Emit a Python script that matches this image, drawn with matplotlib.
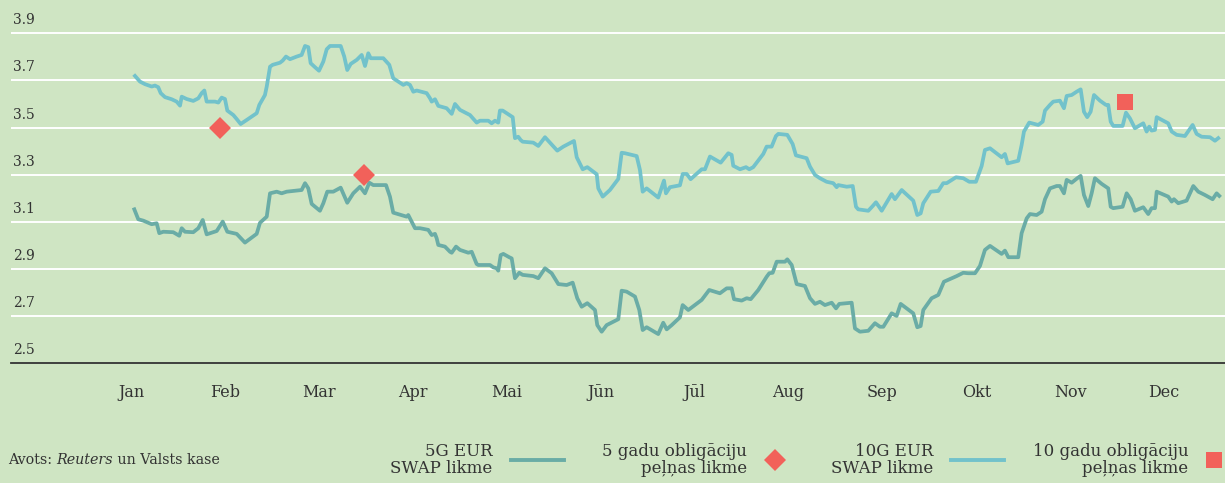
import matplotlib
matplotlib.use("Agg")
import matplotlib.pyplot as plt
from matplotlib.lines import Line2D

# --- DATA (x = month position, 0 = Jan label; y = rate, %) ---
months = ["Jan", "Feb", "Mar", "Apr", "Mai", "Jūn", "Jūl", "Aug", "Sep", "Okt", "Nov", "Dec"]
y_ticks = [2.5, 2.7, 2.9, 3.1, 3.3, 3.5, 3.7, 3.9]

swap10_x = [0.035, 0.088, 0.142, 0.213, 0.248, 0.283, 0.309, 0.355, 0.426, 0.479, 0.515, 0.533,
            0.586, 0.656, 0.710, 0.746, 0.774, 0.799, 0.888, 0.923, 0.959, 0.994, 1.019, 1.083,
            1.119, 1.161, 1.225, 1.332, 1.360, 1.420, 1.439, 1.474, 1.502, 1.580, 1.609, 1.644,
            1.687, 1.758, 1.811, 1.847, 1.882, 1.907, 1.953, 1.996, 2.042, 2.078, 2.113, 2.227,
            2.265, 2.297, 2.334, 2.398, 2.451, 2.486, 2.521, 2.547, 2.681, 2.745, 2.787, 2.894,
            2.930, 2.965, 3.001, 3.037, 3.143, 3.179, 3.197, 3.232, 3.267, 3.356, 3.410, 3.445,
            3.498, 3.605, 3.676, 3.711, 3.800, 3.836, 3.871, 3.906, 3.924, 3.953, 4.060, 4.084,
            4.119, 4.145, 4.166, 4.279, 4.333, 4.404, 4.457, 4.535, 4.599, 4.713, 4.742, 4.806,
            4.855, 4.955, 4.972, 5.019, 5.096, 5.185, 5.221, 5.256, 5.381, 5.416, 5.445, 5.487,
            5.611, 5.672, 5.693, 5.736, 5.842, 5.871, 5.914, 5.956, 6.074, 6.109, 6.162, 6.276,
            6.357, 6.393, 6.410, 6.482, 6.546, 6.581, 6.623, 6.730, 6.766, 6.819, 6.865, 6.890,
            6.986, 7.043, 7.078, 7.192, 7.228, 7.281, 7.334, 7.405, 7.476, 7.512, 7.529, 7.619,
            7.683, 7.718, 7.742, 7.849, 7.896, 7.931, 7.992, 8.098, 8.133, 8.205, 8.328, 8.371,
            8.407, 8.435, 8.514, 8.595, 8.648, 8.684, 8.783, 8.861, 8.925, 8.996, 9.057, 9.092,
            9.146, 9.270, 9.305, 9.334, 9.447, 9.483, 9.508, 9.564, 9.660, 9.707, 9.732, 9.785,
            9.820, 9.891, 9.934, 9.963, 10.016, 10.069, 10.112, 10.147, 10.182, 10.218, 10.254,
            10.318, 10.381, 10.406, 10.432, 10.459, 10.559, 10.595, 10.637, 10.690, 10.779,
            10.815, 10.843, 10.868, 10.904, 10.922, 11.045, 11.082, 11.135, 11.223, 11.305,
            11.348, 11.401, 11.490, 11.543, 11.578]
swap10_y = [3.719, 3.695, 3.684, 3.674, 3.678, 3.671, 3.646, 3.629, 3.620, 3.610, 3.593, 3.631,
            3.621, 3.613, 3.624, 3.646, 3.657, 3.610, 3.610, 3.606, 3.627, 3.621, 3.572, 3.553,
            3.536, 3.515, 3.532, 3.561, 3.596, 3.638, 3.674, 3.758, 3.766, 3.775, 3.784, 3.801,
            3.790, 3.801, 3.808, 3.846, 3.841, 3.773, 3.756, 3.741, 3.780, 3.832, 3.846, 3.846,
            3.801, 3.744, 3.770, 3.787, 3.808, 3.761, 3.815, 3.794, 3.794, 3.766, 3.709, 3.681,
            3.688, 3.681, 3.652, 3.657, 3.646, 3.624, 3.610, 3.620, 3.592, 3.582, 3.558, 3.600,
            3.575, 3.553, 3.521, 3.529, 3.529, 3.518, 3.529, 3.521, 3.572, 3.572, 3.544, 3.455,
            3.461, 3.447, 3.440, 3.436, 3.422, 3.459, 3.436, 3.402, 3.419, 3.443, 3.374, 3.323,
            3.332, 3.302, 3.242, 3.207, 3.235, 3.282, 3.393, 3.391, 3.379, 3.320, 3.228, 3.242,
            3.203, 3.275, 3.221, 3.247, 3.255, 3.303, 3.303, 3.281, 3.323, 3.323, 3.377, 3.351,
            3.391, 3.384, 3.338, 3.323, 3.332, 3.323, 3.332, 3.388, 3.419, 3.419, 3.464, 3.473,
            3.469, 3.430, 3.382, 3.370, 3.334, 3.299, 3.285, 3.270, 3.264, 3.247, 3.256, 3.249,
            3.252, 3.164, 3.153, 3.147, 3.167, 3.183, 3.147, 3.218, 3.196, 3.235, 3.190, 3.129,
            3.136, 3.179, 3.228, 3.231, 3.264, 3.264, 3.289, 3.285, 3.270, 3.270, 3.337, 3.405,
            3.412, 3.374, 3.388, 3.348, 3.359, 3.426, 3.483, 3.521, 3.511, 3.525, 3.572, 3.596,
            3.610, 3.614, 3.582, 3.634, 3.638, 3.652, 3.662, 3.567, 3.544, 3.567, 3.638,
            3.614, 3.596, 3.596, 3.525, 3.507, 3.507, 3.563, 3.539, 3.497, 3.518,
            3.483, 3.504, 3.487, 3.490, 3.544, 3.518, 3.483, 3.469, 3.464, 3.511,
            3.473, 3.461, 3.459, 3.444, 3.455]

swap5_x = [0.028, 0.070, 0.124, 0.213, 0.266, 0.294, 0.337, 0.443, 0.507, 0.533, 0.568, 0.656,
           0.710, 0.757, 0.799, 0.906, 0.970, 1.019, 1.119, 1.207, 1.332, 1.367, 1.439, 1.474,
           1.545, 1.598, 1.652, 1.811, 1.847, 1.882, 1.918, 2.006, 2.042, 2.084, 2.148, 2.227,
           2.297, 2.361, 2.433, 2.486, 2.532, 2.574, 2.710, 2.752, 2.787, 2.930, 2.947, 3.019,
           3.072, 3.160, 3.197, 3.232, 3.250, 3.267, 3.338, 3.392, 3.410, 3.456, 3.498, 3.587,
           3.623, 3.676, 3.693, 3.818, 3.853, 3.889, 3.906, 3.932, 3.960, 4.023, 4.049, 4.084,
           4.130, 4.166, 4.279, 4.333, 4.404, 4.475, 4.546, 4.635, 4.699, 4.748, 4.795, 4.855,
           4.937, 4.961, 5.008, 5.061, 5.185, 5.221, 5.274, 5.363, 5.409, 5.445, 5.487, 5.611,
           5.664, 5.701, 5.754, 5.842, 5.871, 5.931, 6.074, 6.154, 6.268, 6.340, 6.393, 6.418,
           6.500, 6.553, 6.596, 6.677, 6.766, 6.794, 6.830, 6.873, 6.961, 6.986, 7.033, 7.086,
           7.174, 7.228, 7.281, 7.334, 7.387, 7.459, 7.505, 7.540, 7.672, 7.707, 7.760, 7.849,
           7.920, 7.973, 8.009, 8.098, 8.151, 8.194, 8.328, 8.371, 8.407, 8.435, 8.524, 8.595,
           8.655, 8.791, 8.861, 8.914, 8.986, 9.039, 9.092, 9.146, 9.270, 9.305, 9.341, 9.447,
           9.483, 9.537, 9.572, 9.643, 9.696, 9.732, 9.785, 9.856, 9.891, 9.934, 9.963, 10.016,
           10.076, 10.112, 10.147, 10.193, 10.229, 10.264, 10.336, 10.406, 10.432, 10.459,
           10.559, 10.602, 10.645, 10.690, 10.779, 10.832, 10.868, 10.904, 10.922, 11.045,
           11.082, 11.106, 11.152, 11.241, 11.312, 11.365, 11.436, 11.518, 11.561, 11.589]
swap5_y = [3.153, 3.111, 3.105, 3.090, 3.094, 3.052, 3.058, 3.056, 3.041, 3.073, 3.058, 3.056,
           3.073, 3.108, 3.047, 3.061, 3.101, 3.058, 3.049, 3.012, 3.049, 3.096, 3.122, 3.221,
           3.228, 3.221, 3.228, 3.235, 3.264, 3.242, 3.176, 3.147, 3.179, 3.228, 3.228, 3.245,
           3.181, 3.221, 3.249, 3.221, 3.266, 3.256, 3.256, 3.207, 3.139, 3.122, 3.129, 3.073,
           3.073, 3.066, 3.044, 3.049, 3.030, 3.002, 2.995, 2.973, 2.969, 2.995, 2.981, 2.969,
           2.973, 2.921, 2.917, 2.917, 2.907, 2.903, 2.893, 2.959, 2.964, 2.950, 2.945, 2.861,
           2.884, 2.875, 2.870, 2.861, 2.903, 2.882, 2.836, 2.832, 2.842, 2.776, 2.740, 2.755,
           2.726, 2.662, 2.634, 2.662, 2.687, 2.808, 2.804, 2.783, 2.726, 2.641, 2.653, 2.624,
           2.672, 2.644, 2.662, 2.695, 2.747, 2.726, 2.769, 2.811, 2.797, 2.818, 2.818, 2.772,
           2.766, 2.776, 2.772, 2.811, 2.867, 2.882, 2.884, 2.931, 2.931, 2.941, 2.917, 2.836,
           2.828, 2.776, 2.752, 2.761, 2.747, 2.757, 2.733, 2.752, 2.757, 2.648, 2.634, 2.638,
           2.670, 2.655, 2.655, 2.712, 2.701, 2.752, 2.712, 2.653, 2.658, 2.726, 2.776, 2.790,
           2.846, 2.870, 2.884, 2.882, 2.882, 2.913, 2.981, 2.998, 2.964, 2.978, 2.950, 2.950,
           3.052, 3.115, 3.133, 3.129, 3.143, 3.196, 3.242, 3.252, 3.252, 3.221, 3.278, 3.266,
           3.285, 3.295, 3.214, 3.167, 3.221, 3.285, 3.261, 3.242, 3.164, 3.158,
           3.164, 3.221, 3.196, 3.147, 3.162, 3.133, 3.158, 3.158, 3.228, 3.207,
           3.186, 3.196, 3.179, 3.190, 3.252, 3.228, 3.214, 3.196, 3.221, 3.210]

bond5_x = [0.941, 2.475]
bond5_y = [3.50, 3.30]
bond10_x = [10.584]
bond10_y = [3.61]

legend_labels = ["5G EUR\nSWAP likme", "5 gadu obligāciju\npeļņas likme",
                 "10G EUR\nSWAP likme", "10 gadu obligāciju\npeļņas likme"]

# --- STYLE ---
BG = "#cfe5c3"
C10 = "#72c2cb"
C5 = "#6aaca6"
RED = "#f2615a"
TXT = "#333333"
plt.rcParams['font.family'] = ['DejaVu Serif']

W, H = 1225, 483
fig = plt.figure(figsize=(W / 100, H / 100), dpi=100, facecolor=BG)
ax = fig.add_axes([11 / W, 1 - 363.3 / H, 1 - 11 / W, 363.3 / H])
ax.set_facecolor(BG)
ax.set_xlim(-1.286, 11.65)
ax.set_ylim(2.5, 4.041)

for v in y_ticks[1:]:
    ax.axhline(v, color="white", lw=1.4, zorder=1)
for v in y_ticks:
    ax.annotate(f"{v:.1f}", xy=(0, v), xycoords=("axes fraction", "data"),
                xytext=(2, 9), textcoords="offset pixels", ha="left", va="baseline",
                fontsize=10, color=TXT)

for s in ["top", "right", "left"]:
    ax.spines[s].set_visible(False)
ax.spines["bottom"].set_color(TXT)
ax.spines["bottom"].set_linewidth(1.3)
ax.set_yticks([])
ax.set_xticks(range(len(months)))
ax.set_xticklabels(months, fontsize=11.5, color=TXT)
ax.tick_params(axis="x", length=0, pad=15)

ax.plot(swap5_x, swap5_y, color=C5, lw=2.7, zorder=2)
ax.plot(swap10_x, swap10_y, color=C10, lw=2.7, zorder=2)
ax.plot(bond5_x, bond5_y, ls="none", marker="D", ms=11.5, color=RED, mew=0, zorder=3)
ax.plot(bond10_x, bond10_y, ls="none", marker="s", ms=11.5, color=RED, mew=0, zorder=3)

# --- LEGEND ROW ---
ly = 1 - 460 / H
text_right = [492.7, 746.7, 933.3, 1188.3]
for lab, xr in zip(legend_labels, text_right):
    fig.text(xr / W, ly, lab, ha="right", va="center", multialignment="right",
             fontsize=12, color=TXT, linespacing=0.95)
fig.add_artist(Line2D([511 / W, 564 / W], [ly, ly], transform=fig.transFigure, color=C5, lw=2.8))
fig.add_artist(Line2D([951 / W, 1004 / W], [ly, ly], transform=fig.transFigure, color=C10, lw=2.8))
fig.add_artist(Line2D([775 / W], [ly], transform=fig.transFigure, ls="none", marker="D",
                      ms=11.5, color=RED, mew=0))
fig.add_artist(Line2D([1213.5 / W], [ly], transform=fig.transFigure, ls="none", marker="s",
                      ms=12, color=RED, mew=0))

# source note with italic agency name
src_fs = 10.3
t1 = fig.text(8 / W, ly, "Avots: ", ha="left", va="center", fontsize=src_fs, color=TXT)
t2 = ax.annotate("Reuters", xy=(1, 0), xycoords=t1, ha="left", va="bottom",
                 fontsize=src_fs, color=TXT, style="italic", annotation_clip=False)
ax.annotate(" un Valsts kase", xy=(1, 0), xycoords=t2, ha="left", va="bottom",
            fontsize=src_fs, color=TXT, annotation_clip=False)

fig.savefig("out.png", dpi=100, facecolor=BG)
